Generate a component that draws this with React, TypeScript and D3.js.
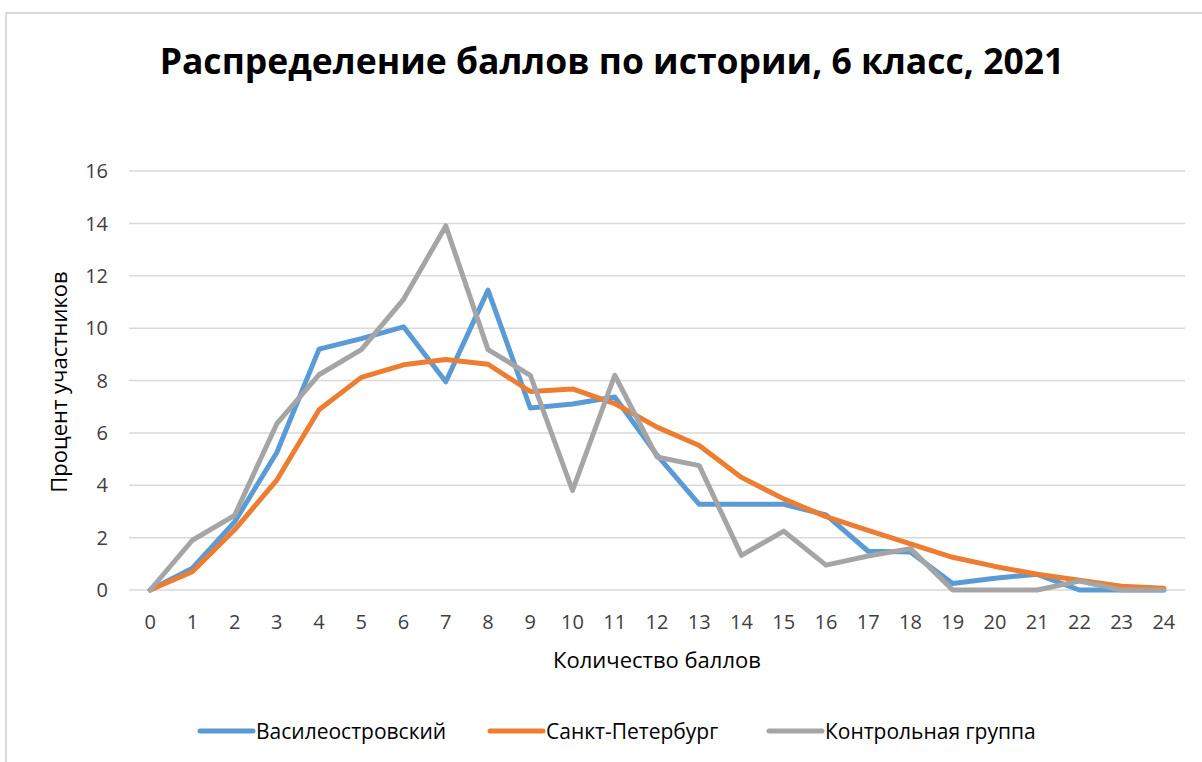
import * as d3 from "d3";

const categories = d3.range(0, 25).map(String);
const vasileostrovsky = [0, 0.83, 2.6, 5.25, 9.2, 9.6, 10.05, 7.95, 11.45, 6.95, 7.1, 7.37, 5.15, 3.27, 3.27, 3.27, 2.87, 1.48, 1.45, 0.25, 0.45, 0.6, 0, 0, 0];
const spb = [0, 0.7, 2.3, 4.2, 6.88, 8.12, 8.6, 8.8, 8.62, 7.58, 7.68, 7.12, 6.22, 5.52, 4.3, 3.48, 2.8, 2.28, 1.76, 1.25, 0.9, 0.6, 0.37, 0.14, 0.07];
const control = [0, 1.9, 2.85, 6.35, 8.22, 9.18, 11.1, 13.9, 9.18, 8.2, 3.8, 8.2, 5.08, 4.75, 1.32, 2.25, 0.95, 1.3, 1.58, 0, 0, 0, 0.34, 0, 0];
const yTicks = [0, 2, 4, 6, 8, 10, 12, 14, 16];

const series = [
  { name: "Василеостровский", values: vasileostrovsky, color: "#5b9bd5" },
  { name: "Санкт-Петербург", values: spb, color: "#ed7d31" },
  { name: "Контрольная группа", values: control, color: "#a5a5a5" },
];

const W = 1202;
const H = 762;
const font = "'Open Sans', sans-serif";

export default function App() {
  const x = d3.scalePoint<string>().domain(categories).range([129, 1185]).padding(0.5);
  const y = d3.scaleLinear().domain([0, 16]).range([590, 171]);
  const line = d3
    .line<number>()
    .x((_, i) => x(categories[i]) as number)
    .y((d) => y(d));

  const legendX = [198, 488, 767];

  return (
    <svg
      width={W}
      height={H}
      style={{ position: "absolute", left: 0, top: 0, background: "#fff" }}
      fontFamily={font}
    >
      <rect x={6} y={13} width={1210} height={760} fill="#fff" stroke="#d9d9d9" strokeWidth={2} />
      <text x={612} y={74} textAnchor="middle" fontSize={35.5} fontWeight="bold" fill="#000">
        Распределение баллов по истории, 6 класс, 2021
      </text>
      {yTicks.map((t) => (
        <g key={t}>
          <line x1={129} x2={1185} y1={y(t)} y2={y(t)} stroke="#d9d9d9" strokeWidth={1.5} />
          <text x={108} y={y(t)} dy="0.36em" textAnchor="end" fontSize={20} fill="#404040">
            {t}
          </text>
        </g>
      ))}
      {categories.map((c) => (
        <text key={c} x={x(c)} y={622} dy="0.36em" textAnchor="middle" fontSize={20} fill="#404040">
          {c}
        </text>
      ))}
      <text x={657} y={668} textAnchor="middle" fontSize={22} fill="#000">
        Количество баллов
      </text>
      <text
        transform={`translate(67,382) rotate(-90)`}
        textAnchor="middle"
        fontSize={22}
        fill="#000"
      >
        Процент участников
      </text>
      {series.map((s) => (
        <path
          key={s.name}
          d={line(s.values) ?? ""}
          fill="none"
          stroke={s.color}
          strokeWidth={5}
          strokeLinejoin="round"
          strokeLinecap="round"
        />
      ))}
      {series.map((s, i) => (
        <g key={s.name} transform={`translate(${legendX[i]},731)`}>
          <line x1={2} x2={55} y1={0} y2={0} stroke={s.color} strokeWidth={5} strokeLinecap="round" />
          <text x={58} y={0} dy="0.36em" fontSize={21} fill="#000">
            {s.name}
          </text>
        </g>
      ))}
    </svg>
  );
}
